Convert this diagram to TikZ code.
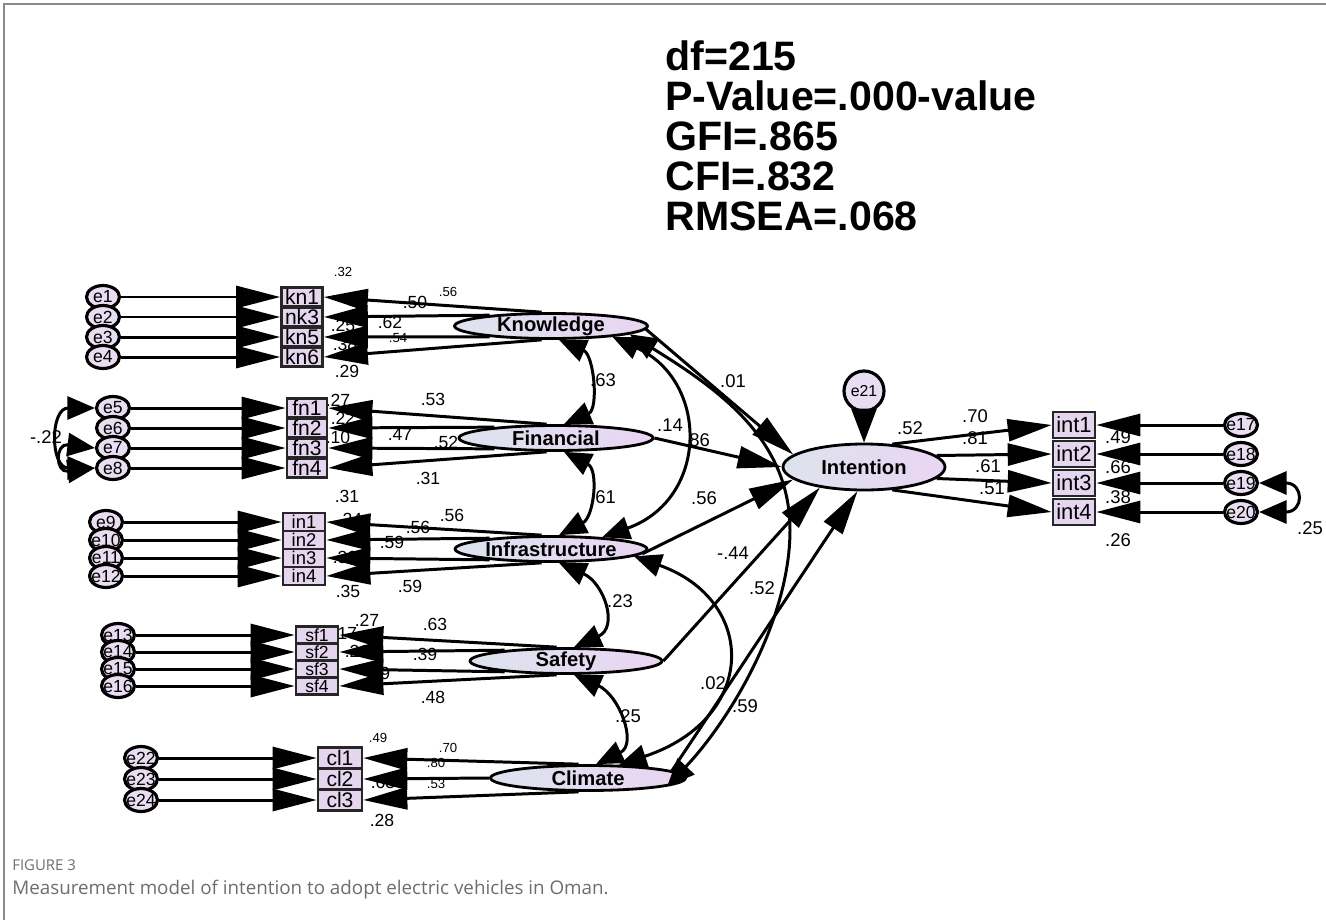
\documentclass[tikz,border=0pt]{standalone}
\usepackage{fontspec}
\setmainfont{Liberation Sans}
\newfontfamily\capfont{Open Sans}
\usetikzlibrary{arrows.meta,shapes.geometric}
\definecolor{latleft}{HTML}{DDE3EE}
\definecolor{latright}{HTML}{EAD5F2}
\definecolor{boxfill}{HTML}{E5D5EE}
\definecolor{errfill}{HTML}{E9DDF1}
\definecolor{framegray}{HTML}{8A8A8A}
\definecolor{capgray}{HTML}{6E6E6E}

\tikzset{
  latent/.style={ellipse, draw=black, line width=1.6pt, left color=latleft, right color=latright,
    inner xsep=0pt, inner ysep=-2pt, minimum height=0.5cm, font=\fontsize{11.5}{12}\selectfont\bfseries},
  obs/.style={rectangle, draw=black!85, line width=1.5pt, fill=boxfill, inner sep=0pt,
    font=\fontsize{12}{12}\selectfont},
  err/.style={ellipse, draw=black, line width=1.8pt, fill=errfill, inner xsep=-3pt, inner ysep=-1pt,
    minimum width=0.66cm, minimum height=0.46cm, font=\fontsize{10}{10}\selectfont},
  reg/.style={line width=1.7pt, -{Triangle[length=0.88cm,width=0.44cm]}},
  dist/.style={line width=1.7pt, -{Triangle[length=0.68cm,width=0.5cm]}},
  cov/.style={line width=1.7pt, {Triangle[length=0.55cm,width=0.46cm]}-{Triangle[length=0.55cm,width=0.46cm]}},
  coef/.style={inner sep=0pt, font=\fontsize{10}{10}\selectfont},
  coefl/.style={inner sep=0pt, font=\fontsize{10.5}{10.5}\selectfont},
  coefs/.style={inner sep=0pt, font=\fontsize{7.5}{7.5}\selectfont},
  stat/.style={inner sep=0pt, anchor=base west, font=\fontsize{23.4}{23.4}\selectfont\bfseries},
  capfig/.style={inner sep=0pt, anchor=base west, text=capgray, font=\capfont\fontsize{8.5}{10}\selectfont},
  captext/.style={inner sep=0pt, anchor=base west, text=capgray, font=\capfont\fontsize{10.7}{12}\selectfont},
}

\begin{document}
\begin{tikzpicture}[x=0.02cm, y=-0.02cm]
  \useasboundingbox (0,0) rectangle (1326,920);
  \fill[white] (0,0) rectangle (1326,920);
  \draw[framegray, line width=1.1pt] (4,920) -- (4,4) -- (1326,4);

  % fit statistics
  \foreach \txt [count=\i] in {df=215, P-Value=.000-value, GFI=.865, CFI=.832, RMSEA=.068}
    \node[stat] (stat\i) at (665,30+40*\i) {\txt};

  % estimates (drawn first, nodes and arrows cover some of them)
  \foreach \x/\y/\v [count=\i] in {415/302/.50, 390/322/.62, 343/325/.25, 345/344/.38, 347/371/.29,
      338/400/.27, 343/418/.22, 338/437/.10, 433/399/.53, 400/434/.47, 446/442/.52, 428/478/.31, 347/496/.31,
      350/519/.24, 418/527/.56, 452/515/.56, 392/542/.59, 345/557/.36, 348/591/.35, 410/586/.59,
      345/633/.17, 367/620/.27, 435/624/.63, 425/654/.39, 357/651/.21, 378/673/.29, 433/697/.48,
      383/782/.63, 382/820/.28}
    \node[coef] (est\i) at (\x,\y) {\v};
  \foreach \x/\y/\v [count=\i] in {603/380/.63, 733/381/.01, 670/425/.14, 697/440/.86, 603/497/.61,
      704/498/.56, 733/553/-.44, 762/588/.52, 620/601/.23, 713/683/.02, 745/706/.59, 628/716/.25,
      910/428/.52, 975/416/.70, 975/438/.81, 988/466/.61, 992/488/.51, 1118/437/.49, 1118/467/.66,
      1118/497/.38, 1118/540/.26, 1310/528/.25, 46/437/-.22}
    \node[coefl] (path\i) at (\x,\y) {\v};
  \foreach \x/\y/\v [count=\i] in {343/272/.32, 448/292/.56, 398/338/.54, 378/738/.49, 448/748/.70,
      436/763/.80, 436/784/.53}
    \node[coefs] (small\i) at (\x,\y) {\v};

  % latent variables
  \node[latent, minimum width=3.86cm] (know) at (551,326) {Knowledge};
  \node[latent, minimum width=3.88cm] (fin) at (556,438) {Financial};
  \node[latent, minimum width=3.84cm] (infra) at (551,549) {Infrastructure};
  \node[latent, minimum width=3.84cm] (safe) at (566,661) {Safety};
  \node[latent, minimum width=3.9cm] (clim) at (588,778) {Climate};
  \node[latent, minimum width=3.24cm, minimum height=0.92cm] (intent) at (864,467) {Intention};
  \node[err, circle, minimum size=0.8cm, font=\fontsize{9}{9}\selectfont] (e21) at (864,391) {e21};

  % indicators with their error terms
  \foreach \n [count=\i] in {kn1,nk3,kn5,kn6} {
    \node[obs, minimum width=0.82cm, minimum height=0.39cm] (\n) at (302,277+20*\i) {\n};
    \node[err] (e\i) at (103,277+20*\i) {e\i};
  }
  \foreach \n [count=\i from 5] in {fn1,fn2,fn3,fn4} {
    \node[obs, minimum width=0.8cm, minimum height=0.39cm] (\n) at (307,308+20*\i) {\n};
    \node[err] (e\i) at (113,308+20*\i) {e\i};
  }
  \foreach \n [count=\i from 9] in {in1,in2,in3,in4} {
    \node[obs, minimum width=0.84cm, minimum height=0.36cm, font=\fontsize{10.5}{10.5}\selectfont] (\n) at (304,360+18*\i) {\n};
    \node[err] (e\i) at (106,360+18*\i) {e\i};
  }
  \foreach \n [count=\i from 13] in {sf1,sf2,sf3,sf4} {
    \node[obs, minimum width=0.84cm, minimum height=0.34cm, font=\fontsize{10}{10}\selectfont] (\n) at (317,414+17*\i) {\n};
    \node[err] (e\i) at (118,414+17*\i) {e\i};
  }
  \foreach \n [count=\i from 22] in {cl1,cl2,cl3} {
    \node[obs, minimum width=0.88cm, minimum height=0.42cm] (\n) at (340,296+21*\i) {\n};
    \node[err] (e\i) at (141,296+21*\i) {e\i};
  }
  \foreach \n [count=\i from 17] in {int1,int2,int3,int4} {
    \node[obs, minimum width=0.84cm, minimum height=0.52cm, font=\fontsize{12.5}{12.5}\selectfont] (\n) at (1074,29*\i-68) {\n};
    \node[err] (e\i) at (1241,29*\i-68) {e\i};
  }

  % error terms -> indicators
  \foreach \n [count=\i] in {kn1,nk3,kn5,kn6,fn1,fn2,fn3,fn4,in1,in2,in3,in4,sf1,sf2,sf3,sf4}
    \draw[reg] (e\i) -- (\n);
  \foreach \n [count=\i from 22] in {cl1,cl2,cl3}
    \draw[reg] (e\i) -- (\n);
  \foreach \n [count=\i from 17] in {int1,int2,int3,int4}
    \draw[reg] (e\i) -- (\n);

  % loadings
  \foreach \n/\a in {kn1/124,nk3/170,kn5/190,kn6/236}
    \draw[reg] (know.\a) -- (\n.east);
  \foreach \n/\a in {fn1/124,fn2/170,fn3/190,fn4/236}
    \draw[reg] (fin.\a) -- (\n.east);
  \foreach \n/\a in {in1/124,in2/170,in3/190,in4/236}
    \draw[reg] (infra.\a) -- (\n.east);
  \foreach \n/\a in {sf1/124,sf2/170,sf3/190,sf4/236}
    \draw[reg] (safe.\a) -- (\n.east);
  \foreach \n/\a in {cl1/124,cl2/180,cl3/236}
    \draw[reg] (clim.\a) -- (\n.east);
  \foreach \n/\a in {int1/39,int2/9,int3/-9,int4/-39}
    \draw[reg] (intent.\a) -- (\n.west);

  % structural paths
  \draw[reg] (know.-2) -- (intent.170);
  \draw[reg] (fin.east) -- (intent.west);
  \draw[reg] (infra.-3) -- (intent.190);
  \draw[reg] (safe.east) -- (intent.205);
  \draw[reg] (clim.5) -- (intent.255);
  \draw[dist] (e21) -- (intent);

  % covariances
  \draw[cov] (know.-60) .. controls +(35,15) and +(35,-15) .. (fin.60);
  \draw[cov] (fin.-60) .. controls +(35,18) and +(35,-18) .. (infra.60);
  \draw[cov] (infra.-60) .. controls +(45,20) and +(45,-20) .. (safe.60);
  \draw[cov] (safe.-60) .. controls +(45,20) and +(42,-20) .. (clim.60);
  \draw[cov] (know.-10) .. controls +(97,44) and +(107,-38) .. (infra.13);
  \draw[cov] (infra.-5) .. controls +(124,44) and +(139,-46) .. (clim.23);
  \draw[cov] (know.-6) .. controls (720,390) and (790,440) .. (790,530)
    .. controls (790,620) and (730,720) .. (clim.-6);
  \draw[cov] (e5.west) .. controls +(-45,0) and +(-45,0) .. (e8.west);
  \draw[cov] (e7.west) .. controls +(-40,-5) and +(-40,5) .. (e8.west);
  \draw[cov] (e19.east) .. controls +(45,0) and +(45,0) .. (e20.east);

  % caption
  \node[capfig] (figno) at (12,870) {FIGURE 3};
  \node[captext] (caption) at (12,894) {Measurement model of intention to adopt electric vehicles in Oman.};
\end{tikzpicture}
\end{document}
